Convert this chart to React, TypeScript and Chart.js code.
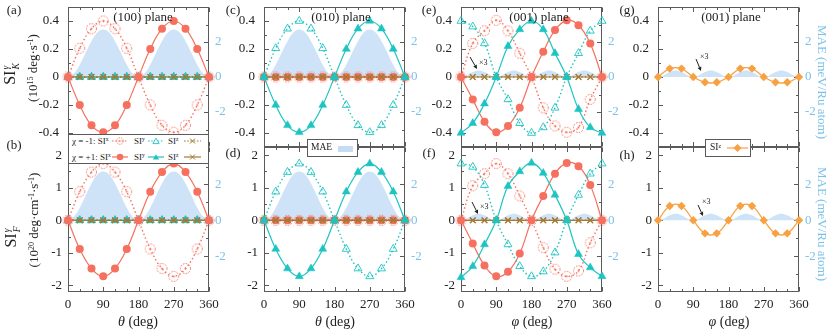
import React, { useEffect, useRef } from 'react';
import { Chart, registerables } from 'chart.js';
Chart.register(...registerables);

// ---------------- data ----------------
const ANGLES = [0, 30, 60, 90, 120, 150, 180, 210, 240, 270, 300, 330, 360];
const MAE_ANGLES = [0, 15, 30, 45, 60, 75, 90, 105, 120, 135, 150, 165, 180, 195, 210, 225, 240, 255, 270, 285, 300, 315, 330, 345, 360];
const ZERO = [0, 0, 0, 0, 0, 0, 0, 0, 0, 0, 0, 0, 0];

// (100) and (010) planes
const SIK_INPLANE_PLUS = [0, -0.2, -0.345, -0.395, -0.345, -0.2, 0, 0.2, 0.345, 0.4, 0.345, 0.2, 0];
const SIK_INPLANE_MINUS = [0, 0.205, 0.345, 0.4, 0.345, 0.205, 0, -0.2, -0.345, -0.395, -0.345, -0.2, 0];
const SIF_INPLANE_PLUS = [0, -0.88, -1.48, -1.72, -1.48, -0.88, 0, 0.88, 1.48, 1.74, 1.48, 0.88, 0];
const SIF_INPLANE_MINUS = [0, 0.88, 1.48, 1.74, 1.48, 0.88, 0, -0.88, -1.48, -1.72, -1.48, -0.88, 0];

// (001) plane
const SIK_001_X_PLUS = [0, -0.16, -0.32, -0.395, -0.35, -0.22, 0, 0.18, 0.335, 0.405, 0.37, 0.24, 0];
const SIK_001_X_MINUS = [0, 0.24, 0.33, 0.405, 0.33, 0.17, 0, -0.22, -0.35, -0.395, -0.36, -0.16, 0];
const SIK_001_Y_PLUS = [-0.4, -0.33, -0.19, 0, 0.22, 0.34, 0.4, 0.34, 0.17, 0, -0.23, -0.36, -0.4];
const SIK_001_Y_MINUS = [0.4, 0.36, 0.24, 0, -0.16, -0.33, -0.4, -0.36, -0.22, 0, 0.17, 0.33, 0.4];
const SIF_001_X_PLUS = [0, -0.71, -1.39, -1.72, -1.58, -1.02, 0, 0.75, 1.43, 1.76, 1.66, 1.08, 0];
const SIF_001_X_MINUS = [0, 1.06, 1.43, 1.74, 1.43, 0.75, 0, -0.84, -1.5, -1.72, -1.55, -0.69, 0];
const SIF_001_Y_PLUS = [-1.75, -1.41, -0.74, 0, 1.05, 1.5, 1.76, 1.45, 0.78, 0, -1.04, -1.45, -1.72];
const SIF_001_Y_MINUS = [1.74, 1.64, 1.08, 0, -0.74, -1.41, -1.72, -1.57, -0.99, 0, 0.78, 1.43, 1.74];
const SIK_001_Z = [0, 0.06, 0.06, 0, -0.038, -0.038, 0, 0.06, 0.06, 0, -0.038, -0.038, 0];
const SIF_001_Z = [0, 0.44, 0.44, 0, -0.4, -0.4, 0, 0.44, 0.44, 0, -0.4, -0.4, 0];

// MAE (meV/Ru atom)
const MAE_INPLANE = [0, 0.2, 0.7, 1.38, 2.05, 2.55, 2.72, 2.55, 2.05, 1.38, 0.7, 0.2, 0, 0.2, 0.7, 1.38, 2.05, 2.55, 2.72, 2.55, 2.05, 1.38, 0.7, 0.2, 0];
const MAE_001_X3 = [0, 0.1, 0.28, 0.37, 0.28, 0.1, 0, 0.1, 0.28, 0.37, 0.28, 0.1, 0, 0.1, 0.28, 0.37, 0.28, 0.1, 0, 0.1, 0.28, 0.37, 0.28, 0.1, 0];

// tick labels
const X_TICKS = [0, 90, 180, 270, 360];
const X_MINOR = [30, 60, 120, 150, 210, 240, 300, 330];
const YK_TICKS = [-0.4, -0.2, 0, 0.2, 0.4];
const YK_MINOR = [-0.3, -0.1, 0.1, 0.3];
const YF_TICKS = [-2, -1, 0, 1, 2];
const YF_MINOR = [-1.5, -0.5, 0.5, 1.5];
const MAE_TICKS = [-2, 0, 2];
const MAE_MINOR = [-3, -1, 1, 3];

// ---------------- style ----------------
const W = 831, H = 330;
const FONT = "'Liberation Serif','Times New Roman',serif";
const RED = '#f5705f';
const TEAL = '#1ec4c1';
const BROWN = '#a37a35';
const ORANGE = '#f7a142';
const MAE_FILL = '#cfe3f8';
const BLUE_TXT = '#7cc2e8';
const FRAME = '#5a5a5a';
const COLS = [68, 264, 461, 658];
const PLOT_W = 141;
const ROWS = [[7, 147], [147, 292]];
const YW = 40, Y2W = 30, XH = 25;

const pts = (xs: number[], ys: number[]) => xs.map((x, i) => ({ x, y: ys[i] }));

function makeOpenCircle() {
  const c = document.createElement('canvas');
  c.width = 13; c.height = 13;
  const g = c.getContext('2d')!;
  g.strokeStyle = RED; g.lineWidth = 1; g.setLineDash([1.6, 1.3]);
  g.beginPath(); g.arc(6.5, 6.5, 5, 0, Math.PI * 2); g.stroke();
  g.setLineDash([]); g.fillStyle = RED;
  g.beginPath(); g.arc(6.5, 6.5, 1, 0, Math.PI * 2); g.fill();
  return c;
}

function makeDataset(kind: string, ys: number[], openCircle: any) {
  const base: any = { data: pts(ANGLES, ys), yAxisID: 'y', tension: 0.4, clip: false, fill: false };
  const dotted = { borderWidth: 1.4, borderDash: [1.5, 2.5] };
  switch (kind) {
    case 'xp': return { ...base, borderColor: RED, borderWidth: 1.2, pointStyle: 'circle', pointRadius: 4, pointBackgroundColor: RED, pointBorderColor: RED, pointBorderWidth: 0 };
    case 'xm': return { ...base, ...dotted, borderColor: RED, pointStyle: openCircle, pointRadius: 5 };
    case 'yp': return { ...base, borderColor: TEAL, borderWidth: 1.2, pointStyle: 'triangle', pointRadius: 4.6, pointBackgroundColor: TEAL, pointBorderColor: TEAL, pointBorderWidth: 0.5 };
    case 'ym': return { ...base, ...dotted, borderColor: TEAL, pointStyle: 'triangle', pointRadius: 4.6, pointBackgroundColor: 'rgba(0,0,0,0)', pointBorderColor: TEAL, pointBorderWidth: 0.9 };
    case 'zp': return { ...base, borderColor: BROWN, borderWidth: 1.2, pointStyle: 'crossRot', pointRadius: 4, pointBorderColor: BROWN, pointBorderWidth: 1.1 };
    case 'zm': return { ...base, ...dotted, borderColor: BROWN, pointStyle: 'crossRot', pointRadius: 4, pointBorderColor: BROWN, pointBorderWidth: 1.1 };
    default: return { ...base, borderColor: ORANGE, borderWidth: 1.3, pointStyle: 'rectRot', pointRadius: 4.2, pointBackgroundColor: ORANGE, pointBorderColor: ORANGE, pointBorderWidth: 0 };
  }
}

const framePlugin = {
  id: 'frame',
  beforeDatasetsDraw(chart: any, _a: any, o: any) {
    const { ctx, chartArea: a, scales } = chart;
    const sx = scales.x, sy = scales.y, sy2 = scales.y2;
    const L = Math.round(a.left) + 0.5, R = Math.round(a.right) - 0.5;
    const T = Math.round(a.top) + 0.5, B = Math.round(a.bottom) - 0.5;
    ctx.save();
    ctx.strokeStyle = FRAME;
    ctx.lineWidth = 1;
    ctx.beginPath();
    const seg = (x1: number, y1: number, x2: number, y2: number) => { ctx.moveTo(x1, y1); ctx.lineTo(x2, y2); };
    const xs: [number[], number][] = [[o.xMajor, 4.5], [o.xMinor, 2.5]];
    for (const [vals, len] of xs) for (const v of vals) {
      const p = Math.round(sx.getPixelForValue(v)) + 0.5;
      seg(p, T, p, T + len); seg(p, B, p, B - len);
    }
    const ys: [number[], number][] = [[o.yMajor, 4.5], [o.yMinor, 2.5]];
    for (const [vals, len] of ys) for (const v of vals) {
      const p = Math.round(sy.getPixelForValue(v)) + 0.5;
      seg(L, p, L + len, p);
    }
    const y2s: [number[], number][] = [[o.y2Major, 4.5], [o.y2Minor, 2.5]];
    for (const [vals, len] of y2s) for (const v of vals) {
      const p = Math.round(sy2.getPixelForValue(v)) + 0.5;
      seg(R, p, R - len, p);
    }
    ctx.stroke();
    ctx.strokeRect(L, T, R - L, B - T);
    ctx.restore();
  },
};

const fixFit = (size: number) => (s: any) => {
  if (s.isHorizontal()) s.height = size; else s.width = size;
  s.paddingLeft = 0; s.paddingRight = 0; s.paddingTop = 0; s.paddingBottom = 0;
};
const setTicks = (vals: number[]) => (s: any) => { s.ticks = vals.map((v) => ({ value: v })); };

type Spec = { col: number; row: number; mae: number[]; series: [string, number[]][] };

const PANELS: Spec[] = [
  { col: 0, row: 0, mae: MAE_INPLANE, series: [['ym', ZERO], ['yp', ZERO], ['zm', ZERO], ['zp', ZERO], ['xm', SIK_INPLANE_MINUS], ['xp', SIK_INPLANE_PLUS]] },
  { col: 0, row: 1, mae: MAE_INPLANE, series: [['ym', ZERO], ['yp', ZERO], ['zm', ZERO], ['zp', ZERO], ['xm', SIF_INPLANE_MINUS], ['xp', SIF_INPLANE_PLUS]] },
  { col: 1, row: 0, mae: MAE_INPLANE, series: [['xm', ZERO], ['xp', ZERO], ['zm', ZERO], ['zp', ZERO], ['ym', SIK_INPLANE_MINUS], ['yp', SIK_INPLANE_PLUS]] },
  { col: 1, row: 1, mae: MAE_INPLANE, series: [['xm', ZERO], ['xp', ZERO], ['zm', ZERO], ['zp', ZERO], ['ym', SIF_INPLANE_MINUS], ['yp', SIF_INPLANE_PLUS]] },
  { col: 2, row: 0, mae: MAE_001_X3, series: [['zm', ZERO], ['zp', ZERO], ['xm', SIK_001_X_MINUS], ['xp', SIK_001_X_PLUS], ['ym', SIK_001_Y_MINUS], ['yp', SIK_001_Y_PLUS]] },
  { col: 2, row: 1, mae: MAE_001_X3, series: [['zm', ZERO], ['zp', ZERO], ['xm', SIF_001_X_MINUS], ['xp', SIF_001_X_PLUS], ['ym', SIF_001_Y_MINUS], ['yp', SIF_001_Y_PLUS]] },
  { col: 3, row: 0, mae: MAE_001_X3, series: [['zo', SIK_001_Z]] },
  { col: 3, row: 1, mae: MAE_001_X3, series: [['zo', SIF_001_Z]] },
];

function PanelChart({ spec }: { spec: Spec }) {
  const ref = useRef<HTMLCanvasElement | null>(null);
  useEffect(() => {
    const canvas = ref.current!;
    const openCircle = makeOpenCircle();
    const [y0, y1] = ROWS[spec.row];
    const x0 = COLS[spec.col], x1 = x0 + PLOT_W;
    const top = spec.row === 0;
    const datasets: any[] = spec.series.map(([k, ys], i) => ({ ...makeDataset(k, ys, openCircle), order: 50 - i }));
    datasets.push({
      data: pts(MAE_ANGLES, spec.mae), yAxisID: 'y2', borderWidth: 0, borderColor: 'rgba(0,0,0,0)',
      pointRadius: 0, fill: 'origin', backgroundColor: MAE_FILL, tension: 0.4, order: 100, clip: false,
    });
    const tickFont = { family: FONT, size: 13 };
    const chart = new Chart(canvas, {
      type: 'line',
      data: { datasets },
      options: {
        animation: false,
        responsive: false,
        devicePixelRatio: 1,
        events: [],
        layout: { padding: { left: x0 - YW, top: y0, right: W - x1 - Y2W, bottom: H - y1 - XH } },
        plugins: {
          legend: { display: false },
          tooltip: { enabled: false },
          frame: {
            xMajor: X_TICKS, xMinor: X_MINOR,
            yMajor: top ? YK_TICKS : YF_TICKS, yMinor: top ? YK_MINOR : YF_MINOR,
            y2Major: MAE_TICKS, y2Minor: MAE_MINOR,
          },
        } as any,
        scales: {
          x: {
            type: 'linear', position: 'bottom', min: 0, max: 360,
            grid: { display: false, drawTicks: false }, border: { display: false },
            afterFit: fixFit(XH), afterBuildTicks: setTicks(X_TICKS),
            ticks: { display: !top, font: tickFont, color: '#222', padding: 5, autoSkip: false, maxRotation: 0, minRotation: 0, callback: (v: any) => String(v) },
          },
          y: {
            type: 'linear', position: 'left', min: top ? -0.5 : -2.2, max: top ? 0.5 : 2.25,
            grid: { display: false, drawTicks: false }, border: { display: false },
            afterFit: fixFit(YW), afterBuildTicks: setTicks(top ? YK_TICKS : YF_TICKS),
            ticks: { font: tickFont, color: '#222', padding: top ? 9 : 6, autoSkip: false, callback: (v: any) => String(v) },
          },
          y2: {
            type: 'linear', position: 'right', min: -4, max: top ? 4 : 4.09,
            grid: { display: false, drawTicks: false }, border: { display: false },
            afterFit: fixFit(Y2W), afterBuildTicks: setTicks(MAE_TICKS),
            ticks: { font: tickFont, color: BLUE_TXT, padding: 6, autoSkip: false, callback: (v: any) => String(v) },
          },
        } as any,
      },
      plugins: [framePlugin],
    } as any);
    return () => chart.destroy();
  }, [spec]);
  return <canvas ref={ref} width={W} height={H} style={{ position: 'absolute', left: 0, top: 0, width: W, height: H }} />;
}

// ---------------- text helpers ----------------
function Txt(p: { x: number; y: number; size?: number; color?: string; anchor?: 'c' | 'l'; rot?: number; children: any }) {
  const { x, y, size = 13, color = '#222', anchor = 'c', rot = 0, children } = p;
  const tr = (anchor === 'c' ? 'translate(-50%,-50%)' : 'translate(0,-50%)') + (rot ? ` rotate(${rot}deg)` : '');
  return (
    <div style={{ position: 'absolute', left: x, top: y, transform: tr, fontSize: size, color, fontFamily: FONT, whiteSpace: 'nowrap', lineHeight: 1 }}>
      {children}
    </div>
  );
}

const Sup = ({ children }: any) => <sup style={{ fontSize: '0.62em', lineHeight: 0, verticalAlign: '0.45em' }}>{children}</sup>;

function SIsym({ sub }: { sub: string }) {
  return (
    <span>
      SI
      <span style={{ display: 'inline-flex', flexDirection: 'column', verticalAlign: 'middle', fontSize: '0.6em', lineHeight: 1.05, marginLeft: 1, fontStyle: 'italic' }}>
        <span>γ</span>
        <span>{sub}</span>
      </span>
    </span>
  );
}

function tri(cx: number, cy: number, r: number) {
  const p = [0, 1, 2].map((k) => {
    const a = -Math.PI / 2 + (k * 2 * Math.PI) / 3;
    return `${cx + r * Math.cos(a)},${cy + r * Math.sin(a) + 0.8}`;
  });
  return p.join(' ');
}

function Glyph({ kind, x, y, w }: { kind: string; x: number; y: number; w: number }) {
  const color = kind[0] === 'x' ? RED : kind[0] === 'y' ? TEAL : kind === 'zo' ? ORANGE : BROWN;
  const dashed = kind.endsWith('m');
  const h = 12, cy = 6, cx = w / 2;
  let marker: any = null;
  if (kind === 'xp') marker = <circle cx={cx} cy={cy} r={3.3} fill={color} />;
  else if (kind === 'xm') marker = (<g><circle cx={cx} cy={cy} r={3.3} fill="none" stroke={color} strokeWidth={0.9} strokeDasharray="1.3 1" /><circle cx={cx} cy={cy} r={0.7} fill={color} /></g>);
  else if (kind === 'yp') marker = <polygon points={tri(cx, cy, 3.6)} fill={color} />;
  else if (kind === 'ym') marker = <polygon points={tri(cx, cy, 3.6)} fill="#fff" stroke={color} strokeWidth={0.9} />;
  else if (kind === 'zp' || kind === 'zm') marker = <path d={`M${cx - 2.5} ${cy - 2.5}L${cx + 2.5} ${cy + 2.5}M${cx - 2.5} ${cy + 2.5}L${cx + 2.5} ${cy - 2.5}`} stroke={color} strokeWidth={1} />;
  else marker = <polygon points={`${cx},${cy - 4} ${cx + 4},${cy} ${cx},${cy + 4} ${cx - 4},${cy}`} fill={color} />;
  return (
    <svg width={w} height={h} style={{ position: 'absolute', left: x, top: y - h / 2 }}>
      <line x1={0} y1={cy} x2={w} y2={cy} stroke={color} strokeWidth={1.2} strokeDasharray={dashed ? '1.6 1.6' : undefined} />
      {marker}
    </svg>
  );
}

function Arrow({ x1, y1, x2, y2 }: { x1: number; y1: number; x2: number; y2: number }) {
  const dx = x2 - x1, dy = y2 - y1, l = Math.hypot(dx, dy), ux = dx / l, uy = dy / l;
  const hl = 4, hw = 2;
  const bx = x2 - ux * hl, by = y2 - uy * hl;
  const p = `${x2},${y2} ${bx - uy * hw},${by + ux * hw} ${bx + uy * hw},${by - ux * hw}`;
  return (<g><line x1={x1} y1={y1} x2={bx} y2={by} stroke="#222" strokeWidth={1} /><polygon points={p} fill="#222" /></g>);
}

const box = (left: number, top: number, width: number, height: number) => (
  <div style={{ position: 'absolute', left, top, width, height, background: '#fff', border: `1px solid ${FRAME}`, boxSizing: 'border-box' }} />
);

export default function App() {
  const lg = 9;
  return (
    <div style={{ position: 'absolute', left: 0, top: 0, width: W, height: H, background: '#fff', overflow: 'hidden', fontFamily: FONT }}>
      {PANELS.map((s, i) => <PanelChart key={i} spec={s} />)}

      {/* panel letters */}
      <Txt x={14} y={9}>(a)</Txt>
      <Txt x={14} y={144}>(b)</Txt>
      <Txt x={233} y={9}>(c)</Txt>
      <Txt x={233} y={152}>(d)</Txt>
      <Txt x={429} y={9}>(e)</Txt>
      <Txt x={429} y={152}>(f)</Txt>
      <Txt x={627} y={9}>(g)</Txt>
      <Txt x={627} y={154}>(h)</Txt>

      {/* plane titles */}
      <Txt x={143} y={16}>(100) plane</Txt>
      <Txt x={341} y={16}>(010) plane</Txt>
      <Txt x={539} y={16}>(001) plane</Txt>
      <Txt x={731} y={16}>(001) plane</Txt>

      {/* left axis titles */}
      <Txt x={11} y={74} size={16} rot={-90}><SIsym sub="K" /></Txt>
      <Txt x={32} y={68} size={13} rot={-90}>(10<Sup>15</Sup> deg·s<Sup>-1</Sup>)</Txt>
      <Txt x={12} y={237} size={16} rot={-90}><SIsym sub="F" /></Txt>
      <Txt x={33} y={220} size={13} rot={-90}>(10<Sup>20</Sup> deg·cm<Sup>-1</Sup>·s<Sup>-1</Sup>)</Txt>

      {/* right axis titles */}
      <Txt x={822} y={82} size={13} rot={90} color={BLUE_TXT}>MAE (meV/Ru atom)</Txt>
      <Txt x={822} y={224} size={13} rot={90} color={BLUE_TXT}>MAE (meV/Ru atom)</Txt>

      {/* x axis titles */}
      <Txt x={138} y={322} size={14}><i>θ</i> (deg)</Txt>
      <Txt x={335} y={322} size={14}><i>θ</i> (deg)</Txt>
      <Txt x={532} y={322} size={14}><i>φ</i> (deg)</Txt>
      <Txt x={729} y={322} size={14}><i>φ</i> (deg)</Txt>

      {/* chirality legend */}
      {box(68, 134, 141, 30)}
      <Txt x={72} y={141} size={lg} anchor="l">χ = -1: SI<Sup>x</Sup></Txt>
      <Glyph kind="xm" x={112} y={141} w={16} />
      <Txt x={134} y={141} size={lg} anchor="l">SI<Sup>y</Sup></Txt>
      <Glyph kind="ym" x={148} y={141} w={16} />
      <Txt x={168} y={141} size={lg} anchor="l">SI<Sup>z</Sup></Txt>
      <Glyph kind="zm" x={184} y={141} w={17} />
      <Txt x={72} y={157} size={lg} anchor="l">χ = +1: SI<Sup>x</Sup></Txt>
      <Glyph kind="xp" x={112} y={157} w={16} />
      <Txt x={134} y={157} size={lg} anchor="l">SI<Sup>y</Sup></Txt>
      <Glyph kind="yp" x={148} y={157} w={16} />
      <Txt x={168} y={157} size={lg} anchor="l">SI<Sup>z</Sup></Txt>
      <Glyph kind="zp" x={184} y={157} w={17} />

      {/* MAE legend */}
      {box(307, 139, 51, 18)}
      <Txt x={311} y={148} size={9.5} anchor="l">MAE</Txt>
      <div style={{ position: 'absolute', left: 338, top: 146, width: 15, height: 6, background: '#c6dcf6' }} />

      {/* SI^z legend */}
      {box(705, 139, 46, 18)}
      <Txt x={710} y={148} size={9.5} anchor="l">SI<Sup>z</Sup></Txt>
      <Glyph kind="zo" x={727} y={148} w={21} />

      {/* x3 annotations */}
      <svg width={W} height={H} style={{ position: 'absolute', left: 0, top: 0 }}>
        <Arrow x1={470} y1={57} x2={477} y2={69} />
        <Arrow x1={472} y1={202} x2={478} y2={214} />
        <Arrow x1={696} y1={59} x2={701} y2={71} />
        <Arrow x1={698} y1={205} x2={703} y2={216} />
      </svg>
      <Txt x={479} y={63} size={8} anchor="l">×3</Txt>
      <Txt x={480} y={207} size={8} anchor="l">×3</Txt>
      <Txt x={700} y={57} size={8} anchor="l">×3</Txt>
      <Txt x={702} y={202} size={8} anchor="l">×3</Txt>
    </div>
  );
}
